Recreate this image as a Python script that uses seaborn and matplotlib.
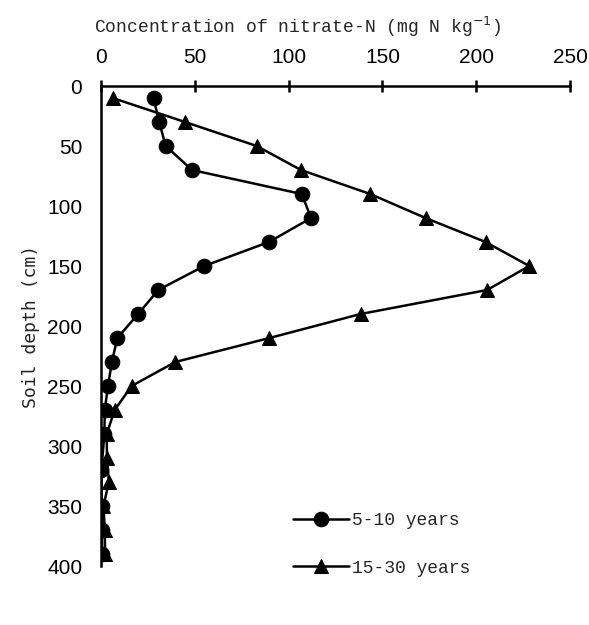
import numpy as np
import pandas as pd
import matplotlib
matplotlib.use("Agg")
import matplotlib.pyplot as plt
import seaborn as sns

# Soil depth (cm) of each sampling layer
depth = [10, 30, 50, 70, 90, 110, 130, 150, 170, 190,
         210, 230, 250, 270, 290, 310, 330, 350, 370, 390]

# Nitrate-N concentration (mg N kg-1)
conc_5_10 = [28, 31, 34.5, 48.5, 107, 112, 89.5, 55, 30.5, 19.8,
             8.7, 5.8, 3.7, 2, 1.8, 0.2, 0.2, 0.4, 0.5, 0.6]
conc_15_30 = [6.2, 44.8, 83, 106.6, 143.5, 173, 205, 228.3, 205.8, 138.4,
              89.8, 39.6, 16.3, 7.3, 3, 3.2, 4.2, 1.3, 2, 2.2]

df = pd.concat([
    pd.DataFrame({"depth": depth, "conc": conc_5_10, "group": "5-10 years"}),
    pd.DataFrame({"depth": depth, "conc": conc_15_30, "group": "15-30 years"}),
])

sns.set_style("white")
mono = ["Liberation Mono", "DejaVu Sans Mono"]

fig = plt.figure(figsize=(5.89, 6.25), dpi=100)
ax = fig.add_axes([0.1715, 0.0944, 0.7962, 0.768])

markers = {"5-10 years": "o", "15-30 years": "^"}
for name, grp in df.groupby("group", sort=False):
    sns.lineplot(data=grp, x="conc", y="depth", sort=False, ax=ax,
                 color="black", linewidth=1.8, marker=markers[name],
                 markersize=10.5, markeredgecolor="black", label=name)

ax.set_xlim(0, 250)
ax.set_ylim(400, 0)
ax.set_xticks(np.arange(0, 251, 50))
ax.set_yticks(np.arange(0, 401, 50))

ax.xaxis.tick_top()
ax.xaxis.set_label_position("top")
for s in ["right", "bottom"]:
    ax.spines[s].set_visible(False)
for s in ["top", "left"]:
    ax.spines[s].set_linewidth(1.8)
    ax.spines[s].set_color("black")

ax.tick_params(axis="x", direction="inout", length=9, width=1.8, pad=9,
               labelsize=15, colors="black")
ax.tick_params(axis="y", direction="inout", length=13, width=1.8, pad=7,
               labelsize=15, colors="black")
for lab in ax.get_xticklabels() + ax.get_yticklabels():
    lab.set_family(["Liberation Sans", "DejaVu Sans"])

ax.set_xlabel("Concentration of nitrate-N (mg N kg$^{-1}$)",
              fontsize=13, family=mono)
ax.xaxis.set_label_coords(0.42, 1.11)
ax.set_ylabel("Soil depth (cm)", fontsize=13,
              family=["DejaVu Sans Mono"], labelpad=5)

leg = ax.legend(loc="center left", bbox_to_anchor=(0.374, 0.045), frameon=False,
                handlelength=3.1, handletextpad=0.2, labelspacing=1.7,
                prop={"family": mono, "size": 13})

fig.savefig("out.png", dpi=100)
